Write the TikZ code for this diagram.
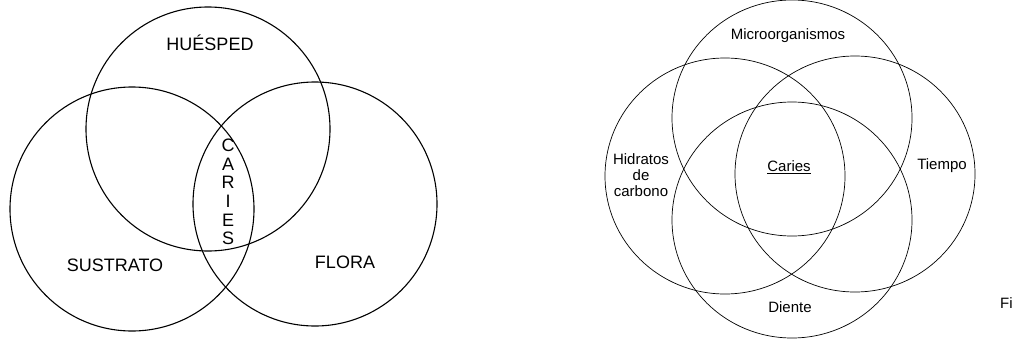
\documentclass[tikz,border=0pt]{standalone}
\usepackage{fontspec}
\setmainfont{Liberation Sans}
\begin{document}
\begin{tikzpicture}[x=1pt, y=-1pt, line join=round, line cap=round,
	bigset/.style={line width=1.1pt},
	smallset/.style={line width=0.7pt},
	caps/.style={font=\fontsize{18}{18.6}\selectfont, inner sep=0pt},
	words/.style={font=\fontsize{15}{16}\selectfont, inner sep=0pt}]
	\useasboundingbox (0,0) rectangle (1016,340);
	% three factors
	\coordinate (huesped) at (208,129);
	\coordinate (sustrato) at (132,209);
	\coordinate (flora) at (315,204);
	\foreach \c in {huesped,sustrato,flora} \draw[bigset] (\c) circle[radius=122pt];
	\node[caps] (tHuesped) at (210,43) {HUÉSPED};
	\node[caps] (tSustrato) at (115,265) {SUSTRATO};
	\node[caps] (tFlora) at (345,262) {FLORA};
	\node[caps, align=center] (tCaries) at (228,192) {C\\A\\R\\I\\E\\S};
	% four factors
	\coordinate (micro) at (792,118);
	\coordinate (hidratos) at (725,176);
	\coordinate (tiempo) at (855,174);
	\coordinate (diente) at (792,220);
	\foreach \c in {micro,hidratos,tiempo,diente} \draw[smallset] (\c) circle[x radius=120pt, y radius=118pt];
	\node[words] (tMicro) at (788,36) {Microorganismos};
	\node[words, align=center] (tHidratos) at (641,175) {Hidratos\\de\\carbono};
	\node[words] (tCaries2) at (789,167) {\underline{Caries}};
	\node[words] (tTiempo) at (942,166) {Tiempo};
	\node[words] (tDiente) at (790,307) {Diente};
	\node[words, anchor=west] (tFig) at (1000,303) {Fi};
\end{tikzpicture}
\end{document}
